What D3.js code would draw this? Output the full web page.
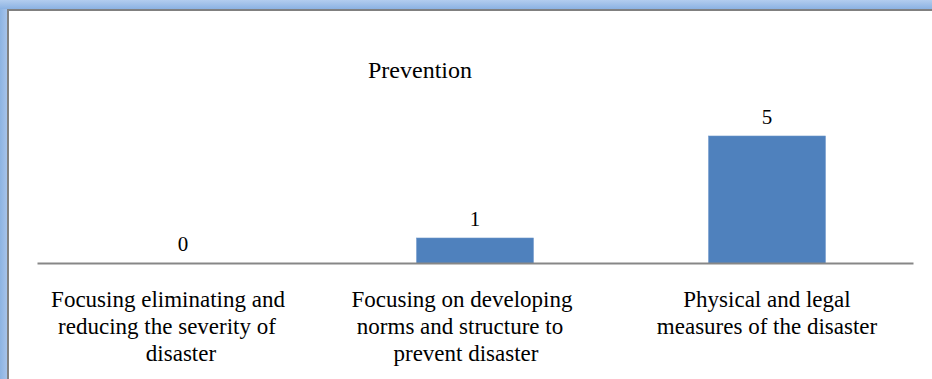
<!DOCTYPE html>
<html>
<head>
<meta charset="utf-8">
<script src="https://cdn.jsdelivr.net/npm/d3@7/dist/d3.min.js"></script>
<style>
  html, body { margin: 0; padding: 0; background: #fff; }
  svg { display: block; }
  .lbl { font-family: "Liberation Serif", "DejaVu Serif", "Times New Roman", Times, serif; }
</style>
</head>
<body>
<svg id="chart" width="932" height="379"></svg>
<script>
// Chart data
const chartTitle = "Prevention";
const categories = [
  "Focusing eliminating and reducing the severity of disaster",
  "Focusing on developing norms and structure to prevent disaster",
  "Physical and legal measures of the disaster"
];
const categoryLines = [
  ["Focusing eliminating and", "reducing the severity of", "disaster"],
  ["Focusing on developing", "norms and structure to", "prevent disaster"],
  ["Physical and legal", "measures of the disaster"]
];
const values = [0, 1, 5];

const W = 932, H = 379;
const svg = d3.select("#chart");

// Window-style frame along the top and left edges
const defs = svg.append("defs");
const gTop = defs.append("linearGradient").attr("id", "frameTop")
  .attr("x1", 0).attr("y1", 0).attr("x2", 0).attr("y2", 1);
gTop.append("stop").attr("offset", "0%").attr("stop-color", "#b3cdee");
gTop.append("stop").attr("offset", "100%").attr("stop-color", "#8bb2e2");
const gLeft = defs.append("linearGradient").attr("id", "frameLeft")
  .attr("x1", 0).attr("y1", 0).attr("x2", 1).attr("y2", 0);
gLeft.append("stop").attr("offset", "0%").attr("stop-color", "#8cb3e2");
gLeft.append("stop").attr("offset", "100%").attr("stop-color", "#a6c3ea");

svg.append("rect").attr("x", 0).attr("y", 0).attr("width", 7).attr("height", H)
  .attr("fill", "url(#frameLeft)");
svg.append("rect").attr("x", 0).attr("y", 0).attr("width", W).attr("height", 9)
  .attr("fill", "url(#frameTop)");
svg.append("rect").attr("x", 7).attr("y", 9).attr("width", W - 7).attr("height", 2)
  .attr("fill", "#808080");
svg.append("rect").attr("x", 7).attr("y", 9).attr("width", 2).attr("height", H - 9)
  .attr("fill", "#808080");

// Scales
const x = d3.scaleBand()
  .domain(categories)
  .range([37, 913])
  .paddingInner(0.6)
  .paddingOuter(0.3);

const y = d3.scaleLinear()
  .domain([0, 5])
  .range([263.5, 136]);

// Title
svg.append("text")
  .attr("class", "lbl")
  .attr("x", 420)
  .attr("y", 78)
  .attr("text-anchor", "middle")
  .style("font-size", "24px")
  .attr("fill", "#000")
  .text(chartTitle);

// Bars
svg.append("g").selectAll("rect")
  .data(values)
  .join("rect")
  .attr("x", (d, i) => x(categories[i]))
  .attr("y", d => y(d))
  .attr("width", x.bandwidth())
  .attr("height", d => y(0) - y(d))
  .attr("fill", "#4f81bd")
  .attr("stroke", "#6a94c8")
  .attr("stroke-width", 0.6);

// Category axis line
const axis = svg.append("g")
  .attr("transform", "translate(0,263)")
  .call(d3.axisBottom(x).tickSize(0).tickSizeOuter(0).tickFormat(""));
axis.select(".domain").attr("stroke", "#878787").attr("stroke-width", 2);
axis.selectAll(".tick").remove();

// Value labels
svg.append("g").selectAll("text")
  .data(values)
  .join("text")
  .attr("class", "lbl")
  .attr("x", (d, i) => x(categories[i]) + x.bandwidth() / 2)
  .attr("y", d => y(d) - 12.5)
  .attr("text-anchor", "middle")
  .style("font-size", "21px")
  .attr("fill", "#000")
  .text(d => d);

// Wrapped category labels
const labelShift = [[-15, -16, -2], [-13, -15, -9], [0, 0]];
const labels = svg.append("g");
categoryLines.forEach((lines, i) => {
  const cx = x(categories[i]) + x.bandwidth() / 2;
  const t = labels.append("text")
    .attr("class", "lbl")
    .attr("text-anchor", "middle")
    .style("font-size", "23px")
    .attr("fill", "#000");
  lines.forEach((ln, j) => {
    t.append("tspan")
      .attr("x", cx + labelShift[i][j])
      .attr("y", 307 + j * 27)
      .text(ln);
  });
});
</script>
</body>
</html>
